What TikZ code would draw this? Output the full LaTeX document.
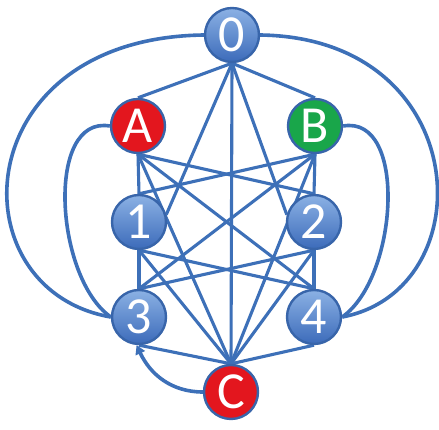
\documentclass[tikz,border=0pt]{standalone}
\usepackage{fontspec}
\newfontfamily\carl{Carlito}
\usetikzlibrary{arrows.meta,backgrounds}
\definecolor{edgeblue}{HTML}{3D70B8}
\definecolor{nborder}{HTML}{3865AA}
\definecolor{ntop}{HTML}{8BB1E4}
\definecolor{nbot}{HTML}{3C6BBA}
\definecolor{nred}{HTML}{E3161E}
\definecolor{ngreen}{HTML}{19A64A}
\tikzset{
  nd/.style={circle, minimum size=54pt, inner sep=0pt, line width=2.4pt, draw=nborder,
    text=white, font=\carl\fontsize{52}{52}\selectfont},
  bluend/.style={nd, top color=ntop, bottom color=nbot},
  rednd/.style={nd, fill=nred},
  greennd/.style={nd, fill=ngreen},
  edge/.style={draw=edgeblue, line width=3.1pt},
  arc/.style={draw=edgeblue, line width=3.6pt},
}
\begin{document}
\begin{tikzpicture}[x=1pt,y=1pt]
\useasboundingbox (0,0) rectangle (439,430);
\node[bluend]  (n0) at (232,{430-35})  {0};
\node[rednd]   (nA) at (138,{430-126}) {A};
\node[greennd] (nB) at (315,{430-126}) {B};
\node[bluend]  (n1) at (139,{430-222}) {1};
\node[bluend]  (n2) at (314,{430-222}) {2};
\node[bluend]  (n3) at (139,{430-317}) {3};
\node[bluend]  (n4) at (314,{430-317}) {4};
\node[rednd]   (nC) at (231,{430-392}) {C};
\begin{scope}[on background layer]
  % from 0
  \path[edge] (n0.south) -- (nA.north);
  \path[edge] (n0.south) -- (nB.north);
  \path[edge] (n0.south) -- (n1.15);
  \path[edge] (n0.south) -- (n2.165);
  \path[edge] (n0.south) -- (nC.north);
  % from A
  \path[edge] (nA.south) -- (n1.north);
  \path[edge] (nA.south) -- (n2.north);
  \path[edge] (nA.south) -- (n4.north);
  \path[edge] (nA.south) -- (nC.north);
  % from B
  \path[edge] (nB.south) -- (n2.north);
  \path[edge] (nB.south) -- (n1.north);
  \path[edge] (nB.south) -- (n3.north);
  \path[edge] (nB.south) -- (nC.north);
  % from 1 and 2
  \path[edge] (n1.south) -- (n3.north);
  \path[edge] (n1.south) -- (n4.north);
  \path[edge] (n1.south) -- (nC.north);
  \path[edge] (n2.south) -- (n4.north);
  \path[edge] (n2.south) -- (n3.north);
  \path[edge] (n2.south) -- (nC.north);
  % from 3 and 4
  \path[edge] (n3.south) -- (nC.north);
  \path[edge] (n4.south) -- (nC.north);
  % outer curves
  \path[arc] (n0.west) .. controls (-35,{430-38}) and (-45,{430-290}) .. (n3.west);
  \path[arc] (n0.east) .. controls (475,{430-38}) and (485,{430-290}) .. (n4.east);
  \path[arc] (nA.west) .. controls (45,{430-115}) and (55,{430-278}) .. (n3.west);
  \path[arc] (nB.east) .. controls (408,{430-115}) and (398,{430-278}) .. (n4.east);
  % arrow C -> 3
  \path[arc, -{Triangle[length=9pt,width=10pt]}] (nC.west) to[out=180, in=-65] (n3.-95);
\end{scope}
\end{tikzpicture}
\end{document}
